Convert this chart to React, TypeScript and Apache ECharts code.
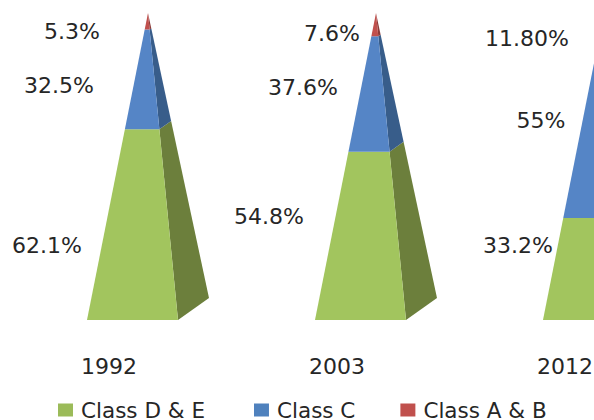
import React, { useEffect, useRef } from "react";
import * as echarts from "echarts";

const years = ["1992", "2003", "2012"];
const classDE = [62.1, 54.8, 33.2];
const classC = [32.5, 37.6, 55];
const classAB = [5.3, 7.6, 11.8];
const labelsDE = ["62.1%", "54.8%", "33.2%"];
const labelsC = ["32.5%", "37.6%", "55%"];
const labelsAB = ["5.3%", "7.6%", "11.80%"];

// Layout only: pixel offsets of each pyramid's corners and labels from its band centre.
const LEFT = -22;
const RIGHT = 69;
const BACK = 100;
const BACK_RISE = 22;
const APEX = 39;
const FONT = "22px 'DejaVu Sans'";
const TEXT = "#262626";
const offsetsDE = { x: [-62, -68, -47], y: [21, -19, -24] };
const offsetsC = { x: [-50, -34, -24], y: [6.5, -7, -13] };
const offsetsAB = { x: [-37, -5, -38], y: [10, 9, 7] };

function makeSeries(
  name: string,
  values: number[],
  below: number[],
  labels: string[],
  offsets: { x: number[]; y: number[] },
  front: string,
  side: string,
  legendColor: string
) {
  return {
    name,
    type: "custom",
    coordinateSystem: "cartesian2d",
    itemStyle: { color: legendColor },
    clip: false,
    encode: { x: 0, y: [1, 2] },
    data: values.map((v, i) => [i, below[i], below[i] + v]),
    renderItem: (params: any, api: any) => {
      const i = params.dataIndex;
      const lo = api.value(1) as number;
      const hi = api.value(2) as number;
      const [cx, baseY] = api.coord([i, 0]);
      const apexY = api.coord([i, 100])[1];
      const backY = baseY - BACK_RISE;
      const apexX = cx + APEX;
      const at = (x: number, y: number, pct: number) => {
        const t = pct / 100;
        return [x + (apexX - x) * t, y + (apexY - y) * t];
      };
      const fl = cx + LEFT;
      const fr = cx + RIGHT;
      const bk = cx + BACK;
      const frontPts = [at(fl, baseY, lo), at(fr, baseY, lo), at(fr, baseY, hi), at(fl, baseY, hi)];
      const sidePts = [at(fr, baseY, lo), at(bk, backY, lo), at(bk, backY, hi), at(fr, baseY, hi)];
      const midY = api.coord([i, (lo + hi) / 2])[1];
      return {
        type: "group",
        children: [
          { type: "polygon", shape: { points: sidePts }, style: { fill: side } },
          { type: "polygon", shape: { points: frontPts }, style: { fill: front } },
          {
            type: "text",
            style: {
              text: labels[i],
              x: cx + offsets.x[i],
              y: midY + offsets.y[i],
              align: "center",
              verticalAlign: "middle",
              font: FONT,
              fill: TEXT,
            },
          },
        ],
      };
    },
  };
}

export default function App() {
  const ref = useRef<HTMLDivElement>(null);
  useEffect(() => {
    const chart = echarts.init(ref.current!, undefined, { renderer: "svg" });
    const belowC = classDE;
    const belowAB = classDE.map((v, i) => v + classC[i]);
    chart.setOption({
      animation: false,
      backgroundColor: "#ffffff",
      grid: { left: -5, top: 13, width: 684, height: 307, containLabel: false, outerBoundsMode: "none" },
      xAxis: {
        type: "category",
        data: years,
        axisLine: { show: false },
        axisTick: { show: false },
        axisLabel: { margin: 35, color: TEXT, fontFamily: "DejaVu Sans", fontSize: 22 },
      },
      yAxis: { type: "value", min: 0, max: 100, show: false, splitLine: { show: false } },
      legend: {
        left: 53,
        top: 394,
        padding: [5, 5, 0, 5],
        itemWidth: 15,
        itemHeight: 13,
        itemGap: 45,
        icon: "rect",
        textStyle: { color: TEXT, fontFamily: "DejaVu Sans", fontSize: 21.5, lineHeight: 16, padding: [0, 0, 0, 3] },
        data: [
          { name: "Class D & E", textStyle: { padding: [0, 4, 0, 3] } },
          { name: "Class C" },
          { name: "Class A & B" },
        ],
      },
      series: [
        makeSeries("Class D & E", classDE, [0, 0, 0], labelsDE, offsetsDE, "#A2C55E", "#6C7F3C", "#9BBB59"),
        makeSeries("Class C", classC, belowC, labelsC, offsetsC, "#5585C6", "#385D8A", "#4F81BD"),
        makeSeries("Class A & B", classAB, belowAB, labelsAB, offsetsAB, "#C0504D", "#8C3A38", "#C0504D"),
      ],
    });
    return () => chart.dispose();
  }, []);
  return <div ref={ref} style={{ position: "fixed", left: 0, top: 0, width: 594, height: 420 }} />;
}
